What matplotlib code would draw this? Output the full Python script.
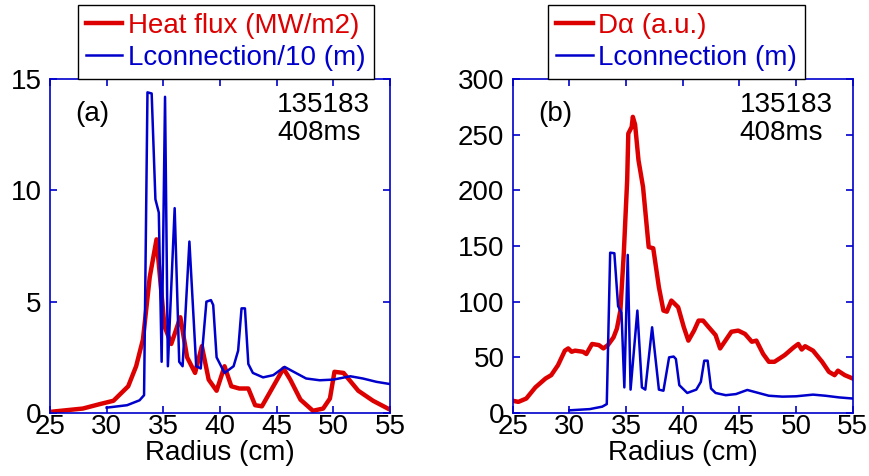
import numpy as np
import matplotlib
matplotlib.use('Agg')
import matplotlib.pyplot as plt

plt.rcParams['font.family'] = ['Liberation Sans', 'DejaVu Sans']
plt.rcParams['font.size'] = 20

RED = '#dd0000'
BLUE = '#0000cc'

# heat flux (MW/m2), panel (a)
hf_r = [25.0, 27.9, 29.4, 30.6, 31.9, 32.6, 33.2, 33.8, 34.4, 35.1, 35.7, 36.5, 37.1, 37.8,
        38.4, 39.0, 39.7, 40.4, 41.0, 41.7, 42.5, 43.1, 43.7, 45.6, 46.2, 47.1, 48.2, 49.1,
        49.7, 50.1, 50.9, 52.2, 53.5, 55.0]
hf = [0.05, 0.2, 0.4, 0.55, 1.2, 2.1, 3.3, 6.1, 7.8, 3.9, 3.1, 4.3, 2.5, 1.8,
      3.0, 1.5, 1.0, 2.1, 1.2, 1.1, 1.1, 0.35, 0.3, 2.0, 1.5, 0.6, 0.1, 0.2,
      0.65, 1.85, 1.8, 1.0, 0.55, 0.15]

# connection length (m)
lc_r = [30.0, 31.8, 32.9, 33.3, 33.6, 33.97, 34.3, 34.6, 34.85, 35.15, 35.4, 36.0, 36.4, 36.7,
        37.3, 37.9, 38.3, 38.8, 39.2, 39.4, 39.7, 40.4, 41.2, 41.6, 41.9, 42.2, 42.5, 42.9,
        43.8, 44.7, 45.7, 46.5, 47.6, 48.8, 50.0, 51.5, 52.6, 53.8, 55.0]
lc = [2.4, 3.5, 5.7, 8.0, 144, 143.5, 96, 90, 23, 142, 21, 92, 23, 21,
      77, 21, 20, 50, 50.7, 48.5, 25, 18, 21, 28, 47, 47, 22, 18,
      16, 17, 20.7, 18.5, 15.5, 14.7, 15, 16.5, 15.5, 14, 13]

# D-alpha (a.u.), panel (b)
da_r = [25.0, 25.5, 26.2, 27.0, 27.9, 28.4, 29.0, 29.6, 29.9, 30.2, 30.5, 31.2, 31.5, 32.0,
        32.6, 33.0, 33.4, 33.9, 34.2, 34.5, 34.8, 35.1, 35.2, 35.5, 35.6, 35.8, 36.1, 36.5,
        37.0, 37.4, 37.9, 38.3, 38.6, 39.0, 39.6, 40.1, 40.5, 41.0, 41.4, 41.8, 42.3, 42.9,
        43.3, 43.7, 44.3, 44.9, 45.5, 46.1, 46.5, 47.1, 47.6, 48.1, 49.0, 49.8, 50.2, 50.5,
        50.8, 51.5, 52.3, 52.9, 53.4, 53.7, 54.3, 55.0]
da = [11, 10, 13, 23, 31, 34, 43, 56, 58, 55, 56, 55, 53, 62,
      61, 58, 61, 68, 76, 92, 143, 209, 251, 257, 266, 259, 227, 203,
      149, 148, 113, 92, 91, 101, 95, 77, 65, 74, 83, 83, 77, 70,
      58, 64, 73, 74, 71, 64, 65, 53, 46, 46, 52, 59, 62, 57,
      60, 56, 46, 37, 34, 38, 34, 31]

fig = plt.figure(figsize=(8.7, 4.76), dpi=100)
ax1 = fig.add_axes([50/870, 63/476, 340/870, 334/476])
ax2 = fig.add_axes([512.7/870, 63/476, 340/870, 334/476])

ax1.plot(hf_r, hf, color=RED, lw=3.2, label='Heat flux (MW/m2)')
ax1.plot(lc_r, np.array(lc) / 10, color=BLUE, lw=1.8, label='Lconnection/10 (m)')
ax2.plot(da_r, da, color=RED, lw=3.2, label='D\u03b1 (a.u.)')
ax2.plot(lc_r, lc, color=BLUE, lw=1.8, label='Lconnection (m)')

ax1.set_ylim(0, 15)
ax1.set_yticks([0, 5, 10, 15])
ax2.set_ylim(0, 300)
ax2.set_yticks([0, 50, 100, 150, 200, 250, 300])

for ax, tag, lx in [(ax1, '(a)', 0.082), (ax2, '(b)', 0.104)]:
    ax.set_xlim(25, 55)
    ax.set_xticks([25, 30, 35, 40, 45, 50, 55])
    for s in ax.spines.values():
        s.set_color(BLUE)
        s.set_linewidth(1.2)
    ax.tick_params(direction='in', length=5, width=1.2, color=BLUE,
                   top=True, right=True, labelsize=20)
    ax.tick_params(axis='x', pad=1)
    ax.tick_params(axis='y', pad=6)
    ax.set_xlabel('Radius (cm)', fontsize=20, labelpad=0)
    ax.text(0.075, 0.895, tag, transform=ax.transAxes, fontsize=20, va='center')
    ax.text(0.668, 0.96, '135183\n408ms', transform=ax.transAxes, fontsize=20, va='top',
            linespacing=1.1)
    leg = ax.legend(loc='lower left', bbox_to_anchor=(lx, 1.0), borderaxespad=0,
                    fancybox=False, edgecolor='black', framealpha=1, fontsize=20,
                    labelcolor='linecolor', handlelength=1.3, handletextpad=0.2,
                    labelspacing=0.2, borderpad=0.3)
    leg.get_frame().set_linewidth(1.0)

fig.savefig('out.png', dpi=100)
